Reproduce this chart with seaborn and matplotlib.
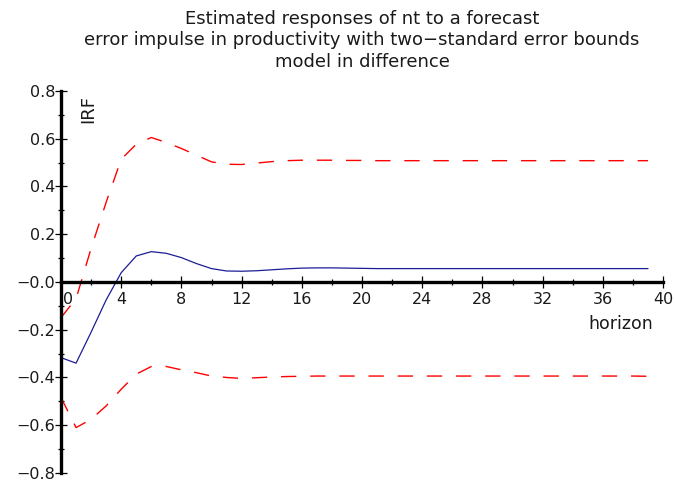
"""
Impulse response of nt to a productivity shock, with two-standard-error bands.
"""

import numpy as np
import pandas as pd
import matplotlib
matplotlib.use("Agg")
import matplotlib.pyplot as plt
from matplotlib.ticker import MultipleLocator
import matplotlib.transforms as mtransforms
import seaborn as sns

# ─────────────────────────────────────────────────────────────────────────────
horizon = list(range(40))

irf = [-0.317, -0.340, -0.210, -0.075, 0.039, 0.109, 0.127, 0.120, 0.102, 0.077,
       0.056, 0.046, 0.045, 0.047, 0.051, 0.055, 0.058, 0.059, 0.059, 0.058,
       0.057, 0.056, 0.056, 0.056, 0.056, 0.056, 0.056, 0.056, 0.056, 0.056,
       0.056, 0.056, 0.056, 0.056, 0.056, 0.056, 0.056, 0.056, 0.056, 0.056]

upper = [-0.149, -0.070, 0.141, 0.334, 0.514, 0.577, 0.605, 0.584, 0.559, 0.531,
         0.503, 0.493, 0.492, 0.498, 0.504, 0.508, 0.510, 0.510, 0.510, 0.509,
         0.509, 0.508, 0.508, 0.508, 0.508, 0.508, 0.508, 0.508, 0.508, 0.508,
         0.508, 0.508, 0.508, 0.508, 0.508, 0.508, 0.508, 0.508, 0.508, 0.508]

lower = [-0.484, -0.610, -0.575, -0.519, -0.449, -0.386, -0.354, -0.354, -0.368, -0.380,
         -0.394, -0.400, -0.404, -0.401, -0.398, -0.396, -0.395, -0.394, -0.394, -0.394,
         -0.394, -0.394, -0.394, -0.394, -0.394, -0.394, -0.394, -0.394, -0.394, -0.394,
         -0.394, -0.394, -0.394, -0.394, -0.394, -0.394, -0.394, -0.394, -0.394, -0.395]

y_ticks = [-0.8, -0.6, -0.4, -0.2, 0.0, 0.2, 0.4, 0.6, 0.8]
y_ticklabels = ["\u22120.8", "\u22120.6", "\u22120.4", "\u22120.2", "\u22120.0",
                "0.2", "0.4", "0.6", "0.8"]
x_ticks = [0, 4, 8, 12, 16, 20, 24, 28, 32, 36, 40]

TITLE = ("Estimated responses of nt to a forecast\n"
         "error impulse in productivity with two\u2212standard error bounds\n"
         "model in difference")

BLUE = "#1c1c96"
RED = "#ff0000"

# ─────────────────────────────────────────────────────────────────────────────
sns.set_style("white")
plt.rcParams["font.family"] = ["DejaVu Sans"]

df = pd.DataFrame({"horizon": horizon, "irf": irf, "upper": upper, "lower": lower})

fig = plt.figure(figsize=(6.75, 4.82), dpi=100)
ax = fig.add_axes([0.0904, 0.0187, 0.8919, 0.7926])

sns.lineplot(data=df, x="horizon", y="irf", color=BLUE, lw=0.9, ax=ax, clip_on=False)
for col in ["upper", "lower"]:
    sns.lineplot(data=df, x="horizon", y=col, color=RED, lw=1.0,
                 dashes=False, ax=ax, clip_on=False)
for line in ax.lines[1:]:
    line.set_dashes((11, 10))

ax.set_xlim(0, 40)
ax.set_ylim(-0.8, 0.8)

# spines through the origin
for side in ["top", "right"]:
    ax.spines[side].set_visible(False)
for side in ["left", "bottom"]:
    ax.spines[side].set_position(("data", 0))
    ax.spines[side].set_linewidth(2.4)
    ax.spines[side].set_color("black")

ax.set_yticks(y_ticks)
ax.set_yticklabels(y_ticklabels)
ax.set_xticks(x_ticks)
ax.yaxis.set_minor_locator(MultipleLocator(0.1))
ax.xaxis.set_minor_locator(MultipleLocator(2))

ax.tick_params(axis="y", which="both", left=True, direction="inout", width=0.9,
               color="black")
ax.tick_params(axis="y", which="major", length=8, pad=0, labelsize=11.5,
               labelcolor="#1a1a1a")
ax.tick_params(axis="y", which="minor", length=5)
ax.tick_params(axis="x", which="both", bottom=True, direction="inout", width=0.9,
               color="black")
ax.tick_params(axis="x", which="major", length=8.5, pad=3, labelsize=11.5,
               labelcolor="#1a1a1a")
ax.tick_params(axis="x", which="minor", length=4.5)

# "0" label sits a little to the right of the y axis
zero_lbl = ax.get_xticklabels()[0]
zero_lbl.set_transform(zero_lbl.get_transform() +
                       mtransforms.ScaledTranslation(7 / 100, 0, fig.dpi_scale_trans))

ax.set_xlabel("horizon", fontsize=12.5, color="#1a1a1a")
ax.xaxis.set_label_coords(0.93, 0.389)
ax.xaxis.label.set_va("center")

ax.set_ylabel("IRF", fontsize=13, color="#1a1a1a")
ax.yaxis.set_label_coords(0.045, 0.952)
ax.yaxis.label.set_va("center")

ax.set_title(TITLE, fontsize=13, linespacing=1.25, pad=17.5, color="#1a1a1a")

plt.savefig("out.png", dpi=100)
plt.close()
